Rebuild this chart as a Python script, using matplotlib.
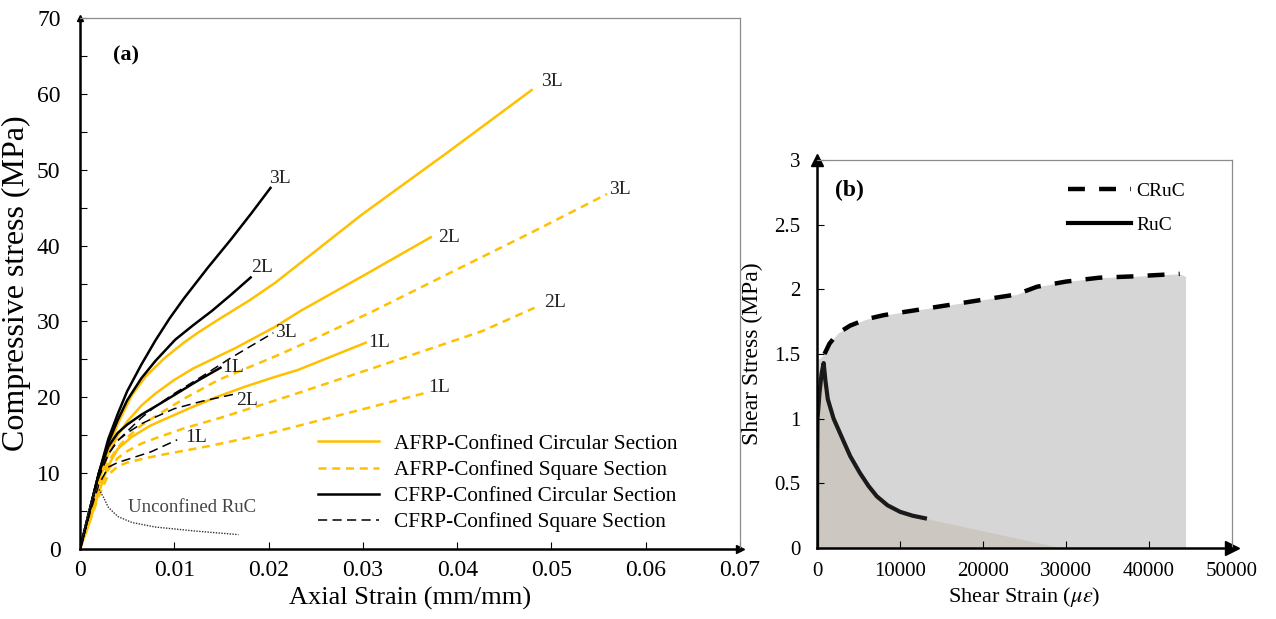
import numpy as np
import matplotlib
matplotlib.use('Agg')
import matplotlib.pyplot as plt
from matplotlib.lines import Line2D

plt.rcParams['font.family'] = ['Liberation Serif', 'DejaVu Serif']
plt.rcParams['mathtext.fontset'] = 'stix'

GOLD = '#FFC000'

# ---- panel (a): stress-strain of confined RuC ----
# CFRP circular
cc3_x = [0, 0.001, 0.002, 0.003, 0.004, 0.005, 0.0065, 0.008, 0.0095, 0.011, 0.0135, 0.016, 0.0182, 0.0202]
cc3_y = [0, 5, 10, 14.5, 17.8, 20.8, 24.3, 27.5, 30.4, 33, 37, 40.8, 44.3, 47.6]
cc2_x = [0, 0.001, 0.002, 0.003, 0.004, 0.005, 0.0065, 0.008, 0.0101, 0.012, 0.014, 0.016, 0.0181]
cc2_y = [0, 5, 10, 14, 17, 19.6, 22.5, 24.8, 27.6, 29.5, 31.4, 33.5, 35.8]
cc1_x = [0, 0.001, 0.002, 0.003, 0.004, 0.005, 0.0065, 0.008, 0.010, 0.0125, 0.0149]
cc1_y = [0, 5, 10, 13.5, 15.3, 16.4, 17.7, 18.8, 20.3, 22.2, 23.9]
# CFRP square
cs3_x = [0, 0.001, 0.002, 0.003, 0.004, 0.005, 0.0065, 0.008, 0.010, 0.013, 0.016, 0.0205]
cs3_y = [0, 5, 9.5, 12.5, 14.3, 15.5, 17.3, 18.8, 20.5, 22.8, 25.2, 28.5]
cs2_x = [0, 0.001, 0.002, 0.003, 0.004, 0.005, 0.0065, 0.008, 0.010, 0.013, 0.0163]
cs2_y = [0, 5, 9.5, 12.5, 14.3, 15.3, 16.5, 17.4, 18.5, 19.5, 20.4]
cs1_x = [0, 0.001, 0.002, 0.003, 0.004, 0.005, 0.0075, 0.0103]
cs1_y = [0, 4.5, 8.5, 10.8, 11.4, 11.8, 12.8, 14.4]
# AFRP circular
ac3_x = [0, 0.001, 0.002, 0.003, 0.004, 0.0055, 0.007, 0.009, 0.011, 0.0126, 0.015, 0.018, 0.0207, 0.025, 0.0298, 0.039, 0.0479]
ac3_y = [0, 4.5, 9, 13, 16.5, 20.3, 22.8, 25.2, 27.2, 28.6, 30.5, 32.8, 35.1, 39.3, 44, 52.3, 60.5]
ac2_x = [0, 0.001, 0.002, 0.003, 0.004, 0.005, 0.0065, 0.008, 0.010, 0.012, 0.0165, 0.0207, 0.0234, 0.030, 0.0372]
ac2_y = [0, 4.5, 9, 12.5, 15, 16.8, 18.9, 20.5, 22.3, 23.8, 26.5, 29.3, 31.4, 36, 41.1]
ac1_x = [0, 0.001, 0.002, 0.003, 0.004, 0.0055, 0.0075, 0.0095, 0.0115, 0.0144, 0.0175, 0.0207, 0.0231, 0.0303]
ac1_y = [0, 3.5, 7.5, 11, 13.2, 14.8, 16.3, 17.4, 18.5, 20.0, 21.4, 22.7, 23.6, 27.2]
# AFRP square
as3_x = [0, 0.001, 0.002, 0.003, 0.004, 0.005, 0.0065, 0.008, 0.011, 0.0147, 0.0207, 0.0245, 0.031, 0.0394, 0.048, 0.0559]
as3_y = [0, 4.5, 8.5, 11.5, 13.4, 14.7, 16.3, 17.5, 19.8, 22.3, 25.4, 27.5, 31.3, 36.5, 41.8, 46.8]
as2_x = [0, 0.001, 0.002, 0.003, 0.004, 0.005, 0.0065, 0.008, 0.011, 0.0149, 0.022, 0.0312, 0.0426, 0.0482]
as2_y = [0, 4, 8, 10.5, 12, 12.9, 13.9, 14.6, 15.9, 17.3, 20.1, 23.9, 28.7, 31.8]
as1_x = [0, 0.001, 0.002, 0.003, 0.004, 0.005, 0.007, 0.009, 0.0138, 0.0202, 0.0277, 0.0367]
as1_y = [0, 3.5, 7, 9.8, 10.9, 11.4, 12.0, 12.5, 13.6, 15.3, 17.7, 20.6]
# unconfined
unc_x = [0, 0.0008, 0.0015, 0.0019, 0.0025, 0.003, 0.004, 0.0055, 0.008, 0.012, 0.0168]
unc_y = [0, 4.5, 7.5, 8.1, 6.8, 5.5, 4.3, 3.5, 2.9, 2.4, 1.9]

legend_a = ['AFRP-Confined Circular Section', 'AFRP-Confined Square Section',
            'CFRP-Confined Circular Section', 'CFRP-Confined Square Section']

# ---- panel (b): shear stress-strain ----
cruc_x = [900, 1500, 2500, 4000, 6000, 8000, 12000, 16000, 20000, 24000, 26500, 30000, 34000, 38000, 43700]
cruc_y = [1.50, 1.58, 1.66, 1.72, 1.77, 1.80, 1.84, 1.88, 1.92, 1.96, 2.02, 2.06, 2.09, 2.10, 2.12]
ruc_x = [0, 20, 60, 300, 550, 800, 1000, 1300, 2000, 3100, 4000, 5170, 6200, 7200, 8500, 10000, 11500, 13000]
ruc_y = [0, 0.6, 1.0, 1.2, 1.35, 1.43, 1.3, 1.15, 1.0, 0.84, 0.71, 0.58, 0.48, 0.40, 0.33, 0.28, 0.25, 0.23]
fill_end_x = 44400
ruc_tail_x = 29500

fig = plt.figure(figsize=(12.76, 6.19), dpi=100)
ax = fig.add_axes([0.0627, 0.113, 0.5173, 0.858])
bx = fig.add_axes([0.6403, 0.1147, 0.3252, 0.6268])

dash_y = (3.2, 2.3)
dash_k = (6, 3.5)
ax.plot(ac3_x, ac3_y, color=GOLD, lw=1.8)
ax.plot(ac2_x, ac2_y, color=GOLD, lw=1.8)
ax.plot(ac1_x, ac1_y, color=GOLD, lw=1.8)
ax.plot(as3_x, as3_y, color=GOLD, lw=1.8, dashes=dash_y)
ax.plot(as2_x, as2_y, color=GOLD, lw=1.8, dashes=dash_y)
ax.plot(as1_x, as1_y, color=GOLD, lw=1.8, dashes=dash_y)
ax.plot(cc3_x, cc3_y, color='k', lw=1.8)
ax.plot(cc2_x, cc2_y, color='k', lw=1.8)
ax.plot(cc1_x, cc1_y, color='k', lw=1.8)
ax.plot(cs3_x, cs3_y, color='k', lw=1.1, dashes=dash_k)
ax.plot(cs2_x, cs2_y, color='k', lw=1.1, dashes=dash_k)
ax.plot(cs1_x, cs1_y, color='k', lw=1.1, dashes=dash_k)
ax.plot(unc_x, unc_y, color='#333333', lw=1.0, ls=(0, (1, 1)))

# layer labels at curve ends, offsets in points
ends = [(cc3_x, cc3_y, '3L', -1, 7), (cc2_x, cc2_y, '2L', 0, 7), (cs3_x, cs3_y, '3L', 1.5, 0),
        (cc1_x, cc1_y, '1L', 1.5, 0), (cs2_x, cs2_y, '2L', 2, -4.5), (cs1_x, cs1_y, '1L', 6, 2),
        (ac3_x, ac3_y, '3L', 7, 6.5), (ac2_x, ac2_y, '2L', 5, 0), (ac1_x, ac1_y, '1L', 2, 0),
        (as3_x, as3_y, '3L', 1.5, 3.5), (as2_x, as2_y, '2L', 7, 3.5), (as1_x, as1_y, '1L', 1.5, 3.5)]
for xs, ys, lbl, dx, dy in ends:
    ax.annotate(lbl, (xs[-1], ys[-1]), xytext=(dx, dy), textcoords='offset points',
                ha='left', va='center', fontsize=14, color='#222222')
ax.annotate('Unconfined RuC', (unc_x[3], unc_y[3]), xytext=(22, -14), textcoords='offset points',
            ha='left', va='center', fontsize=13.5, color='#444444')
ax.text(0.05, 0.93, '(a)', transform=ax.transAxes, fontsize=16, fontweight='bold', va='center')

handles = [Line2D([], [], color=GOLD, lw=1.8),
           Line2D([], [], color=GOLD, lw=1.8, dashes=dash_y),
           Line2D([], [], color='k', lw=1.8),
           Line2D([], [], color='k', lw=1.1, dashes=dash_k)]
ax.legend(handles, legend_a, loc='upper left', bbox_to_anchor=(0.36, 0.217), frameon=False,
          fontsize=15.3, handlelength=2.9, handletextpad=0.7, labelspacing=0.3,
          borderpad=0, borderaxespad=0)

ax.set_xlim(0, 0.07)
ax.set_ylim(0, 70)
ax.set_xticks(np.arange(0, 0.071, 0.01))
ax.set_xticklabels(['{:g}'.format(v) for v in np.round(np.arange(0, 0.071, 0.01), 2)])
ax.set_yticks(np.arange(0, 71, 10))
ax.set_yticks(np.arange(5, 70, 10), minor=True)
ax.tick_params(which='both', direction='in', length=5, width=0.8, labelsize=17)
ax.tick_params(axis='x', pad=8)
ax.tick_params(axis='y', pad=14)
ax.set_xlabel('Axial Strain (mm/mm)', fontsize=19, labelpad=4)
ax.set_ylabel('Compressive stress (MPa)', fontsize=23, labelpad=4)

# ---- panel (b) drawing ----
bx.fill_between([0] + cruc_x + [fill_end_x], [1.45] + cruc_y + [2.10], 0, color='#d6d6d6', lw=0)
bx.fill_between(ruc_x + [ruc_tail_x], ruc_y + [0], 0, color='#ccc8c1', lw=0)
bx.plot(cruc_x, cruc_y, color='k', lw=3.2, dashes=(3.8, 3.2), solid_capstyle='round')
bx.plot(ruc_x, ruc_y, color='#1a1a1a', lw=3.0)
bx.text(0.043, 0.922, '(b)', transform=bx.transAxes, fontsize=17, fontweight='bold', va='center')
bh = [Line2D([], [], color='k', lw=3.2, dashes=(3.8, 3.2)),
      Line2D([], [], color='k', lw=3.0)]
bx.legend(bh, ['CRuC', 'RuC'], loc='upper left', bbox_to_anchor=(0.606, 0.943), frameon=False,
          fontsize=14, handlelength=3.2, handletextpad=0.3, labelspacing=0.85,
          borderpad=0, borderaxespad=0)

bx.set_xlim(0, 50000)
bx.set_ylim(0, 3)
bx.set_xticks(np.arange(0, 50001, 10000))
bx.set_yticks(np.arange(0, 3.01, 0.5))
bx.set_yticklabels(['{:g}'.format(v) for v in np.arange(0, 3.01, 0.5)])
bx.tick_params(which='both', direction='in', length=5, width=0.8, labelsize=15)
bx.tick_params(axis='x', pad=10)
bx.tick_params(axis='y', pad=12)
bx.set_xlabel(r'Shear Strain ($\mu\varepsilon$)', fontsize=16, labelpad=3)
bx.set_ylabel('Shear Stress (MPa)', fontsize=17, labelpad=8)

for a, ms in ((ax, 6), (bx, 10)):
    for s in ('top', 'right'):
        a.spines[s].set_color('#8c8c8c')
        a.spines[s].set_linewidth(0.9)
    for s in ('left', 'bottom'):
        a.spines[s].set_color('k')
        a.spines[s].set_linewidth(1.8)
    a.plot(0, 1, marker='^', ms=ms * 0.8, color='k', transform=a.transAxes, clip_on=False)
    a.plot(1, 0, marker='>', ms=ms, color='k', transform=a.transAxes, clip_on=False)

fig.savefig('out.png', dpi=100)
